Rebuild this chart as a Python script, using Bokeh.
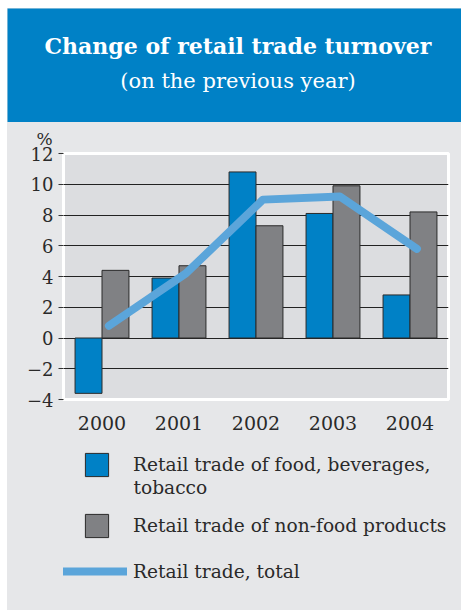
from bokeh.plotting import figure
from bokeh.models import (ColumnDataSource, Legend, LegendItem, Label, FixedTicker,
                          Range1d, FactorRange, Title)
from bokeh.transform import dodge
from bokeh.layouts import column
from bokeh.embed import file_html
from bokeh.resources import INLINE

# ---- data ----
years = ["2000", "2001", "2002", "2003", "2004"]
food = [-3.6, 3.9, 10.8, 8.1, 2.8]
nonfood = [4.4, 4.7, 7.3, 9.9, 8.2]
total = [0.8, 4.2, 9.0, 9.2, 5.8]
y_ticks = [-4, -2, 0, 2, 4, 6, 8, 10, 12]

title_text = "Change of retail trade turnover"
subtitle_text = "(on the previous year)"
unit_text = "%"
food_label = "Retail trade of food, beverages,"
food_label_cont = "tobacco"
nonfood_label = "Retail trade of non-food products"
total_label = "Retail trade, total"

BLUE = "#0081C6"
GREY_BAR = "#808184"
LINE = "#5BA5DA"
PANEL = "#E6E7E9"
PLOTBG = "#DCDDE0"
TXT = "#2A2A2A"
FONT = "DejaVu Serif"

# ---- header ----
head = figure(width=454, height=114, x_range=Range1d(0, 454), y_range=Range1d(0, 114),
              output_backend="svg", toolbar_location=None, min_border=0,
              background_fill_color=BLUE, border_fill_color=BLUE, outline_line_color=None,
              frame_align=False)
head.axis.visible = False
head.grid.visible = False
head.add_layout(Label(x=230.5, y=76.7, text=title_text, text_align="center",
                      text_baseline="alphabetic", text_font=FONT, text_font_style="bold",
                      text_font_size="22px", text_color="white"))
head.add_layout(Label(x=230.5, y=42, text=subtitle_text, text_align="center",
                      text_baseline="alphabetic", text_font=FONT,
                      text_font_size="21px", text_color="white"))

# ---- chart ----
src = ColumnDataSource(dict(years=years, food=food, nonfood=nonfood, total=total))

p = figure(width=454, height=318, x_range=FactorRange(*years, range_padding=0),
           y_range=Range1d(-4, 12), output_backend="svg", toolbar_location=None,
           min_border_left=56, min_border_right=13, min_border_top=30, min_border_bottom=41,
           background_fill_color=PLOTBG, border_fill_color=PANEL,
           outline_line_color="white", outline_line_width=3, frame_align=False)

r_food = p.vbar(x=dodge("years", -0.175, range=p.x_range), top="food", width=0.35,
                source=src, fill_color=BLUE, line_color=TXT, line_width=1)
r_non = p.vbar(x=dodge("years", 0.175, range=p.x_range), top="nonfood", width=0.35,
               source=src, fill_color=GREY_BAR, line_color=TXT, line_width=1)
r_tot = p.line(x=dodge("years", 0.09, range=p.x_range), y="total", source=src,
               line_color=LINE, line_width=8, line_cap="round", line_join="round")

p.xgrid.visible = False
p.ygrid.ticker = FixedTicker(ticks=[t for t in y_ticks if -4 < t < 12])
p.ygrid.grid_line_color = "#222222"
p.ygrid.grid_line_width = 1.2

p.yaxis.ticker = FixedTicker(ticks=y_ticks)
p.yaxis.axis_line_color = None
p.yaxis.major_tick_out = 5
p.yaxis.major_tick_in = 0
p.yaxis.major_tick_line_color = "#333333"
p.yaxis.minor_tick_line_color = None
p.yaxis.major_label_standoff = 5
p.yaxis.major_label_text_font = FONT
p.yaxis.major_label_text_font_size = "18px"
p.yaxis.major_label_text_color = TXT
p.yaxis.major_label_overrides = {t: (str(t) if t >= 0 else "\u2212" + str(-t)) for t in y_ticks}

p.xaxis.axis_line_color = None
p.xaxis.major_tick_line_color = None
p.xaxis.major_label_standoff = 10
p.xaxis.major_label_text_font = FONT
p.xaxis.major_label_text_font_size = "19px"
p.xaxis.major_label_text_color = TXT

p.add_layout(Title(text=unit_text, align="left", offset=-27, standoff=9,
                   text_font=FONT, text_font_size="17px", text_font_style="normal",
                   text_color=TXT), "above")

# ---- legend panel (keys drawn from the same data, kept out of its view) ----
lg = figure(width=454, height=170, x_range=FactorRange(*years), y_range=Range1d(20, 21),
            output_backend="svg", toolbar_location=None, min_border=0,
            background_fill_color=PANEL, border_fill_color=PANEL, outline_line_color=None,
            frame_align=False)
lg.axis.visible = False
lg.grid.visible = False
k_food = lg.vbar(x="years", top="food", width=0.35, source=src,
                 fill_color=BLUE, line_color=TXT, line_width=1)
k_non = lg.vbar(x="years", top="nonfood", width=0.35, source=src,
                fill_color=GREY_BAR, line_color=TXT, line_width=1)
k_tot = lg.line(x="years", y="total", source=src,
                line_color=LINE, line_width=8, line_cap="round")

def mk_legend(items, loc, gw, gh, standoff):
    leg = Legend(items=items, location=loc, padding=0, margin=0, spacing=0,
                 glyph_width=gw, glyph_height=gh, label_standoff=standoff,
                 border_line_color=None, background_fill_alpha=0,
                 label_text_font=FONT, label_text_font_size="18.6px",
                 label_text_color=TXT)
    lg.add_layout(leg, "center")
    return leg

mk_legend([LegendItem(label=food_label, renderers=[k_food])], (75, 131), 29, 29, 22)
lg.add_layout(Label(x=126, y=123, x_units="screen", y_units="screen", text=food_label_cont,
                    text_baseline="middle", text_font=FONT, text_font_size="18.6px",
                    text_color=TXT))
mk_legend([LegendItem(label=nonfood_label, renderers=[k_non])], (75, 70), 29, 29, 22)
mk_legend([LegendItem(label=total_label, renderers=[k_tot])], (56, 27), 64, 24, 6)

layout = column(head, p, lg, spacing=0, margin=(8, 0, 0, 7),
                styles={"background-color": PANEL})
open("out.html", "w").write(file_html(layout, INLINE))
